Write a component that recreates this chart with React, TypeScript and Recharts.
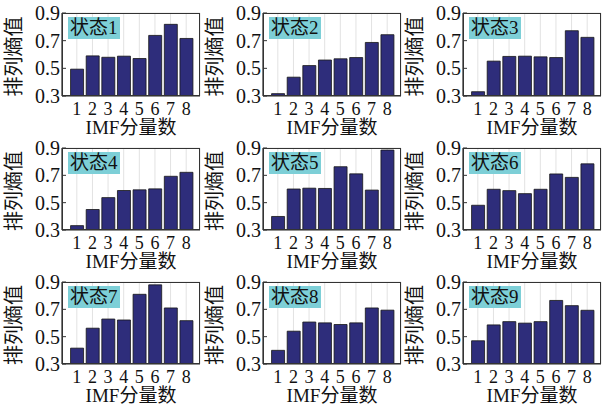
import React from 'react';
import { BarChart, Bar, XAxis, YAxis, CartesianGrid } from 'recharts';

const categories = ['1', '2', '3', '4', '5', '6', '7', '8'];
const yTicks = [0.3, 0.5, 0.7, 0.9];
const gridTicks = [0.3, 0.4, 0.5, 0.6, 0.7, 0.8, 0.9];
const stateNames = ['状态1', '状态2', '状态3', '状态4', '状态5', '状态6', '状态7', '状态8', '状态9'];

const state1 = [0.494, 0.59, 0.58, 0.588, 0.571, 0.738, 0.818, 0.716];
const state2 = [0.317, 0.436, 0.52, 0.56, 0.569, 0.578, 0.687, 0.743];
const state3 = [0.331, 0.552, 0.586, 0.588, 0.583, 0.578, 0.772, 0.724];
const state4 = [0.332, 0.45, 0.537, 0.589, 0.594, 0.601, 0.693, 0.722];
const state5 = [0.399, 0.6, 0.606, 0.604, 0.763, 0.711, 0.592, 0.885];
const state6 = [0.481, 0.598, 0.588, 0.566, 0.598, 0.71, 0.685, 0.784];
const state7 = [0.416, 0.562, 0.629, 0.622, 0.81, 0.879, 0.71, 0.617];
const state8 = [0.4, 0.54, 0.607, 0.601, 0.589, 0.601, 0.71, 0.694];
const state9 = [0.47, 0.586, 0.61, 0.599, 0.61, 0.765, 0.727, 0.693];

const allStates = [state1, state2, state3, state4, state5, state6, state7, state8, state9];

const colLefts = [62, 263, 463];
const rowTops = [13, 148, 282];
const rowHeights = [83, 82, 82];
const plotWidth = 138;
const yAxisW = 62;
const xAxisH = 42;
const topPad = 13;

const FONT = "'Liberation Serif', 'Times New Roman', 'Noto Sans CJK SC', serif";

function Panel({ idx }: { idx: number }) {
  const col = idx % 3;
  const row = Math.floor(idx / 3);
  const plotLeft = colLefts[col];
  const plotTop = rowTops[row];
  const plotH = rowHeights[row];
  const data = categories.map((c, i) => ({ cat: c, v: allStates[idx][i] }));
  const width = yAxisW + plotWidth + 1;
  const height = topPad + plotH + xAxisH;
  return (
    <div style={{ position: 'absolute', left: plotLeft - yAxisW, top: plotTop - topPad, width, height }}>
      <BarChart
        width={width}
        height={height}
        data={data}
        margin={{ top: topPad, right: 1, left: 0, bottom: 0 }}
        barCategoryGap="10%"
      >
        <CartesianGrid yAxisId="grid" stroke="#e2e2e2" strokeWidth={1} />
        <XAxis
          dataKey="cat"
          interval={0}
          padding={{ left: 7, right: 6 }}
          tickLine={false}
          tickMargin={6}
          tickSize={0}
          height={xAxisH}
          axisLine={{ stroke: '#333', strokeWidth: 1.2 }}
          tick={{ fontSize: 18, fill: '#111', fontFamily: FONT }}
          label={(p: any) => {
            const vb = p.viewBox;
            return (
              <text x={vb.x + vb.width / 2} y={vb.y + 38} textAnchor="middle" fontSize={19} fill="#111" fontFamily={FONT}>
                IMF分量数
              </text>
            );
          }}
        />
        <YAxis
          domain={[0.3, 0.9]}
          ticks={yTicks}
          interval={0}
          allowDataOverflow
          width={yAxisW}
          tickSize={-4}
          tickMargin={6}
          tickLine={{ stroke: '#333' }}
          axisLine={{ stroke: '#333', strokeWidth: 1.2 }}
          tick={{ fontSize: 20, fill: '#111', fontFamily: FONT }}
          tickFormatter={(v: number) => v.toFixed(1)}
          label={(p: any) => {
            const vb = p.viewBox;
            const cx = vb.x + 14;
            const cy = vb.y + vb.height / 2 + 2;
            return (
              <text x={cx} y={cy} transform={`rotate(-90, ${cx}, ${cy})`} textAnchor="middle" dominantBaseline="central" fontSize={20} fill="#111" fontFamily={FONT}>
                排列熵值
              </text>
            );
          }}
        />
        <YAxis yAxisId="grid" domain={[0.3, 0.9]} ticks={gridTicks} hide />
        <Bar dataKey="v" fill="#2e2d7b" stroke="#161616" strokeWidth={0.8} isAnimationActive={false} />
      </BarChart>
      <div
        style={{
          position: 'absolute',
          left: yAxisW,
          top: topPad,
          width: plotWidth,
          height: plotH,
          boxSizing: 'border-box',
          border: '1.2px solid #333',
          pointerEvents: 'none',
        }}
      />
      <div
        style={{
          position: 'absolute',
          left: yAxisW + 6,
          top: topPad + 4,
          background: '#7dcfd7',
          padding: '0px 2px',
          fontSize: 19,
          lineHeight: '22px',
          fontFamily: FONT,
          color: '#111',
        }}
      >
        {stateNames[idx]}
      </div>
    </div>
  );
}

export default function App() {
  return (
    <div style={{ position: 'absolute', left: 0, top: 0, width: 603, height: 408, background: '#fff', overflow: 'hidden' }}>
      {allStates.map((_, i) => (
        <Panel key={i} idx={i} />
      ))}
    </div>
  );
}
